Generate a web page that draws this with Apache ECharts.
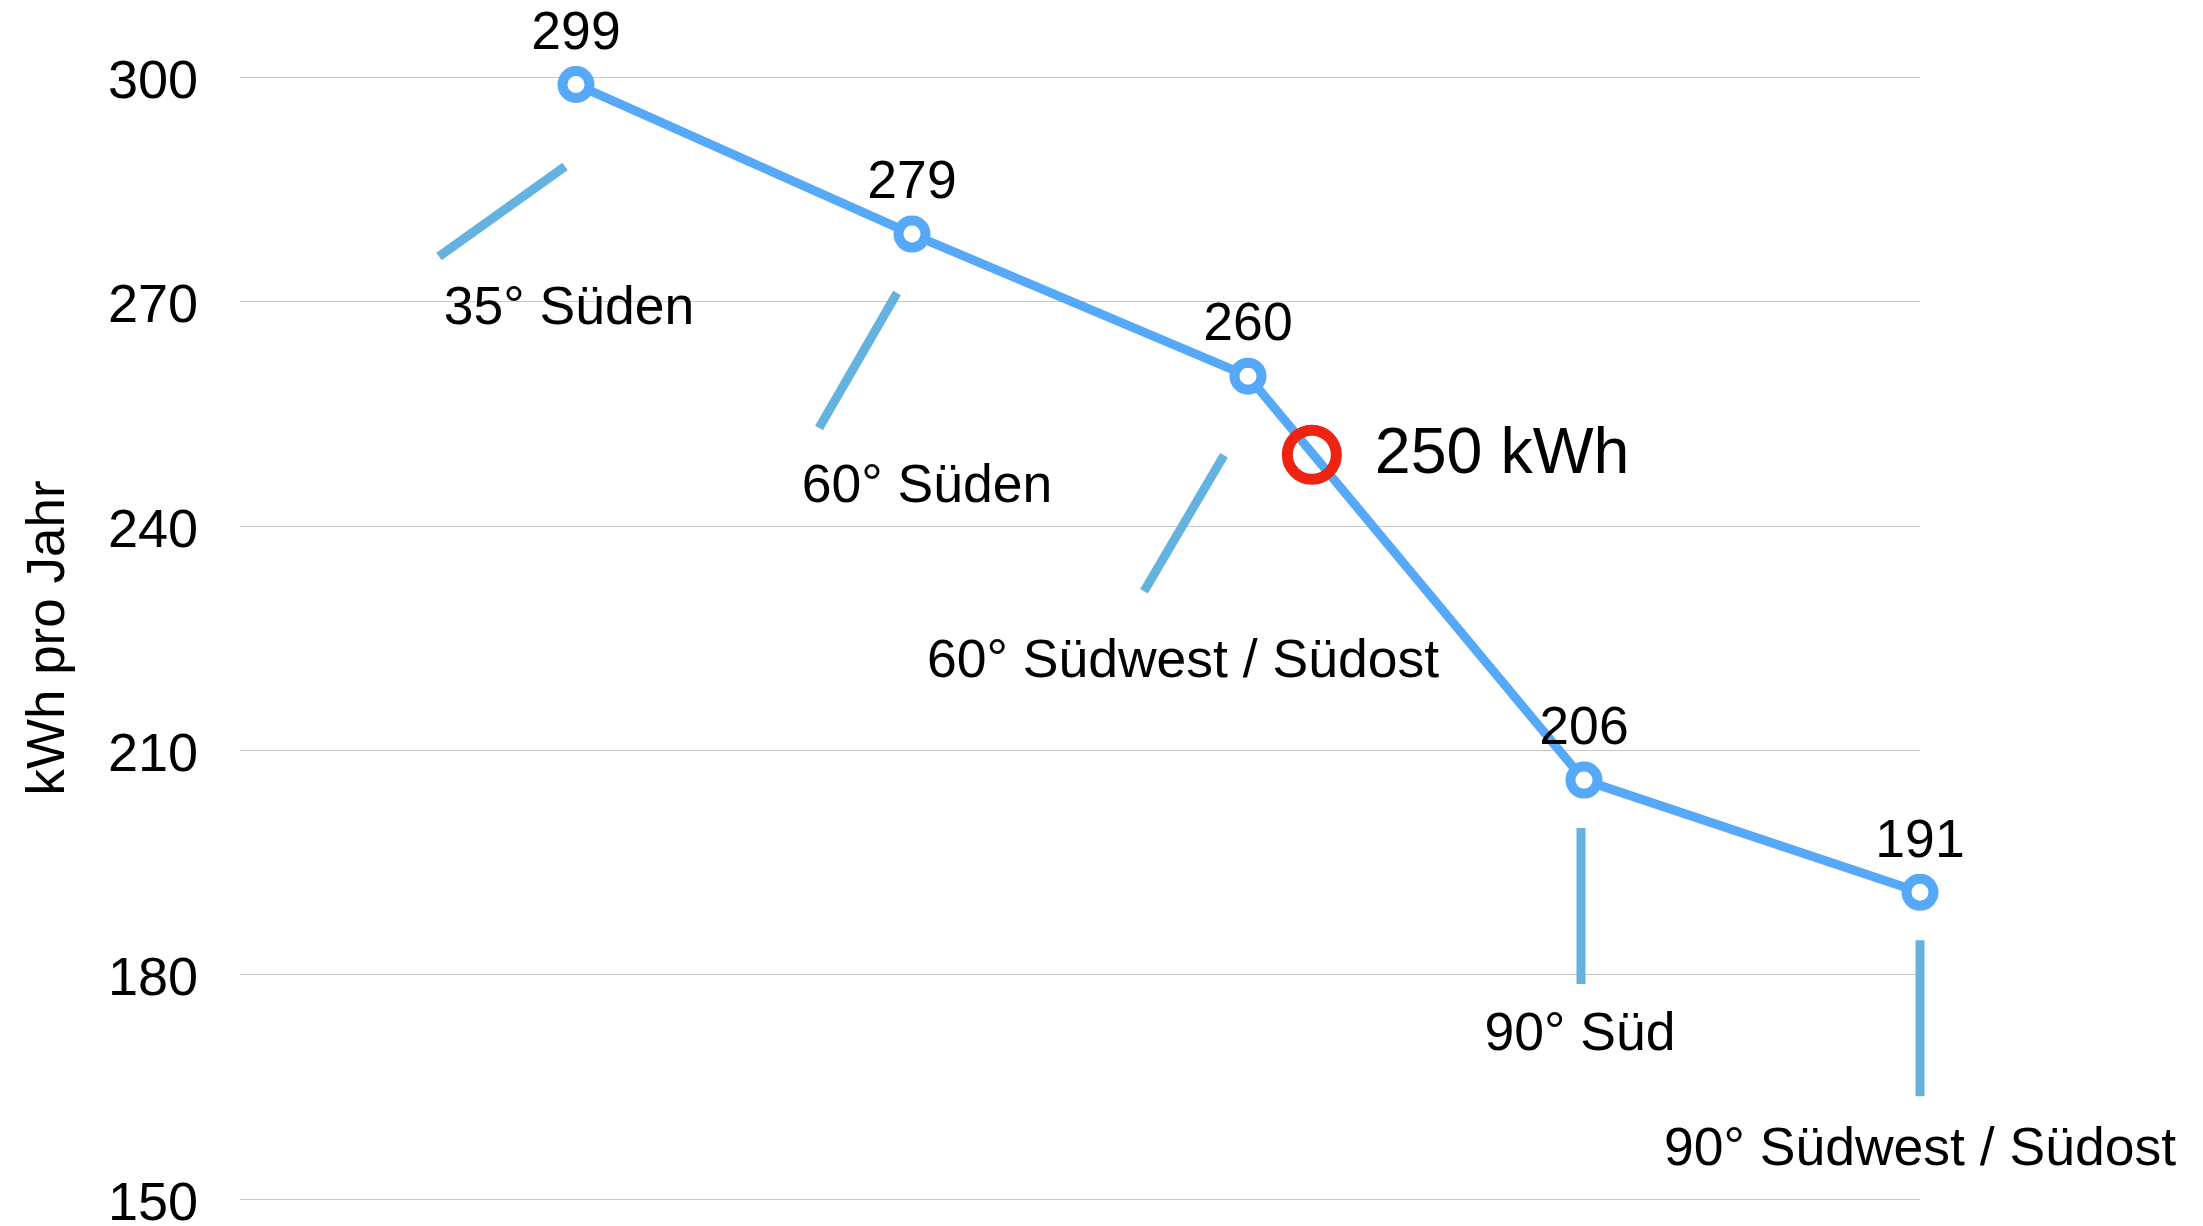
<!DOCTYPE html>
<html>
<head>
<meta charset="utf-8">
<script src="https://cdn.jsdelivr.net/npm/echarts@6/dist/echarts.min.js"></script>
<style>
  html, body { margin: 0; padding: 0; background: #fff; }
  #linechart { width: 2203px; height: 1226px; }
</style>
</head>
<body>
<div id="linechart"></div>
<script>
// Ertrag je Ausrichtung
const categories = ['35° Süden', '60° Süden', '60° Südwest / Südost', '90° Süd', '90° Südwest / Südost'];
const kwhPerYear = [299, 279, 260, 206, 191];
const yTicks = [150, 180, 210, 240, 270, 300];

// 250 kWh Markierung (Lage auf der Linie)
const markerSlot = 3.19;
const markerValue = 249.5;
const markerText = '250 kWh';

// Lage der Beschriftungen relativ zum Punkt (px): Strich [x1,y1,x2,y2], Text [dx,dy]
const annotLayout = [
  { line: [-11, 82, -137, 172], label: [-7, 225] },
  { line: [-15, 59, -93, 194], label: [15, 253] },
  { line: [-24, 79, -104, 215], label: [-65, 286] },
  { line: [-3, 48, -3, 204], label: [-4, 255] },
  { line: [0, 48, 0, 204], label: [0, 258] }
];

const FONT = "'Liberation Sans', Arial, Helvetica, sans-serif";
const LINE_BLUE = '#55a9f8';
const LEAD_BLUE = '#64b2df';

// erster Platz (0) bleibt leer wie im Original
const points = kwhPerYear.map((v, i) => [i + 1, v]);

const chart = echarts.init(document.getElementById('linechart'));

const option = {
  animation: false,
  backgroundColor: '#fff',
  grid: { left: 240, right: 283, top: 77, bottom: 27, outerBoundsMode: 'none' },
  xAxis: {
    type: 'value',
    min: 0,
    max: 5,
    show: false
  },
  yAxis: {
    type: 'value',
    min: yTicks[0],
    max: yTicks[yTicks.length - 1],
    interval: 30,
    name: 'kWh pro Jahr',
    nameLocation: 'middle',
    nameGap: 164,
    nameTextStyle: { fontFamily: FONT, fontSize: 53, color: '#000' },
    axisLine: { show: false },
    axisTick: { show: false },
    axisLabel: {
      margin: 42,
      formatter: v => '{t|' + v + '}',
      rich: { t: { fontFamily: FONT, fontSize: 54, color: '#000', padding: [12, 0, 0, 0] } }
    },
    splitLine: { lineStyle: { color: '#c8c8c8', width: 1 } }
  },
  series: [
    {
      type: 'custom',
      silent: true,
      z: 1,
      data: points,
      renderItem: function (params, api) {
        const p = api.coord([api.value(0), api.value(1)]);
        const L = annotLayout[params.dataIndex];
        return {
          type: 'group',
          children: [
            {
              type: 'line',
              shape: { x1: p[0] + L.line[0], y1: p[1] + L.line[1], x2: p[0] + L.line[2], y2: p[1] + L.line[3] },
              style: { stroke: LEAD_BLUE, lineWidth: 9, lineCap: 'butt' }
            },
            {
              type: 'text',
              x: p[0] + L.label[0],
              y: p[1] + L.label[1],
              style: {
                text: categories[params.dataIndex],
                align: 'center',
                verticalAlign: 'middle',
                fontFamily: FONT,
                fontSize: 53.5,
                fill: '#000'
              }
            }
          ]
        };
      }
    },
    {
      type: 'line',
      z: 2,
      data: points,
      symbol: 'circle',
      symbolSize: 27,
      lineStyle: { color: LINE_BLUE, width: 9 },
      itemStyle: { color: '#fff', borderColor: LINE_BLUE, borderWidth: 10 },
      label: {
        show: true,
        position: 'top',
        distance: 5,
        fontFamily: FONT,
        fontSize: 53.5,
        color: '#000'
      }
    },
    {
      type: 'scatter',
      z: 3,
      data: [[markerSlot, markerValue]],
      symbol: 'circle',
      symbolSize: 49,
      itemStyle: { color: 'rgba(0,0,0,0)', borderColor: '#ee2412', borderWidth: 11, opacity: 1 },
      label: {
        show: true,
        position: 'right',
        distance: 33,
        formatter: markerText,
        fontFamily: FONT,
        fontSize: 64.5,
        color: '#000',
        padding: [10, 0, 0, 0]
      }
    }
  ]
};

chart.setOption(option);
</script>
</body>
</html>
